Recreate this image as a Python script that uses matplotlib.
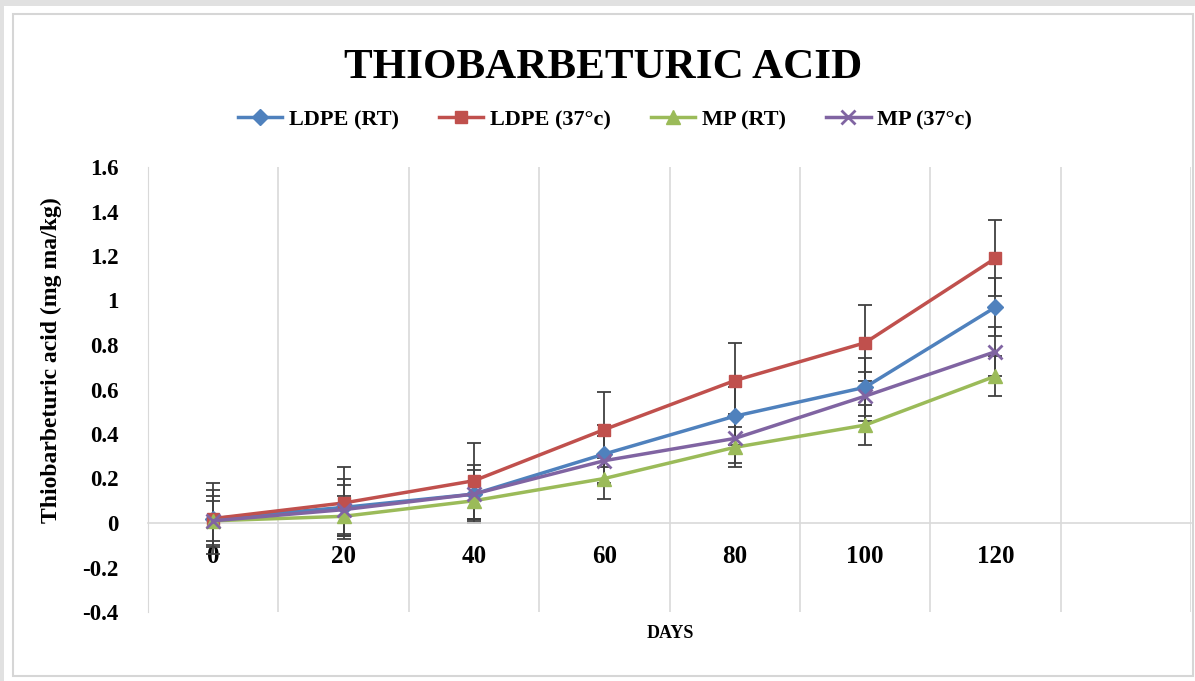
import matplotlib.pyplot as plt
from matplotlib.patches import Rectangle

days = ["0", "20", "40", "60", "80", "100", "120"]
series_names = ["LDPE (RT)", "LDPE (37°c)", "MP (RT)", "MP (37°c)"]

ldpe_rt = [0.02, 0.07, 0.13, 0.31, 0.48, 0.61, 0.97]
ldpe_37 = [0.02, 0.09, 0.19, 0.42, 0.64, 0.81, 1.19]
mp_rt = [0.01, 0.03, 0.10, 0.20, 0.34, 0.44, 0.66]
mp_37 = [0.01, 0.06, 0.13, 0.28, 0.38, 0.57, 0.77]

err_ldpe_rt = [0.13, 0.13, 0.13, 0.13, 0.13, 0.13, 0.13]
err_ldpe_37 = [0.16, 0.16, 0.17, 0.17, 0.17, 0.17, 0.17]
err_mp_rt = [0.09, 0.09, 0.09, 0.09, 0.09, 0.09, 0.09]
err_mp_37 = [0.11, 0.11, 0.11, 0.11, 0.11, 0.11, 0.11]

colors = ["#4F81BD", "#C0504D", "#9BBB59", "#8064A2"]
markers = ["D", "s", "^", "x"]
msizes = [8, 9, 10, 10]

serif = "Liberation Serif"

W, H = 1195, 681
fig = plt.figure(figsize=(W / 100, H / 100), dpi=100)
fig.patch.set_facecolor("white")

# outer grey frame of the screenshot and chart border
fig.add_artist(Rectangle((0, 1 - 6 / H), 1, 6 / H, transform=fig.transFigure,
                         facecolor="#e1e1e1", edgecolor="none"))
fig.add_artist(Rectangle((0, 0), 4 / W, 1, transform=fig.transFigure,
                         facecolor="#e1e1e1", edgecolor="none"))
fig.add_artist(Rectangle((13 / W, 1 - 676 / H), (1193 - 13) / W, (676 - 14) / H,
                         transform=fig.transFigure, facecolor="none",
                         edgecolor="#d6d6d6", linewidth=1.5))

ax = fig.add_axes([148 / W, 1 - 612 / H, (1191 - 148) / W, (612 - 167) / H])

x = list(range(len(days)))
all_vals = [ldpe_rt, ldpe_37, mp_rt, mp_37]
all_errs = [err_ldpe_rt, err_ldpe_37, err_mp_rt, err_mp_37]

for vals, errs, name, c, m, ms in zip(all_vals, all_errs, series_names, colors, markers, msizes):
    ax.errorbar(x, vals, yerr=errs, fmt="none", ecolor="#404040",
                elinewidth=1.3, capsize=5, capthick=1.3, zorder=2)
    ax.plot(x, vals, color=c, marker=m, markersize=ms, linewidth=2.5,
            markeredgewidth=2 if m == "x" else 1, label=name, zorder=3)

ax.set_xlim(-0.5, 7.5)
ax.set_ylim(-0.4, 1.6)
ax.set_yticks([-0.4, -0.2, 0, 0.2, 0.4, 0.6, 0.8, 1, 1.2, 1.4, 1.6])
ax.set_yticklabels(["-0.4", "-0.2", "0", "0.2", "0.4", "0.6", "0.8", "1", "1.2", "1.4", "1.6"])
ax.set_xticks(x)
ax.set_xticklabels(days)

for sp in ["top", "right"]:
    ax.spines[sp].set_visible(False)
ax.spines["left"].set_color("#d9d9d9")
ax.spines["bottom"].set_position(("data", 0))
ax.spines["bottom"].set_color("#d9d9d9")
ax.spines["bottom"].set_linewidth(1.2)

for b in [0.5, 1.5, 2.5, 3.5, 4.5, 5.5, 6.5, 7.5]:
    ax.axvline(b, color="#d9d9d9", linewidth=1.2, zorder=0)

ax.tick_params(axis="both", length=0)
ax.tick_params(axis="y", pad=21)
ax.tick_params(axis="x", pad=16)
for lbl in ax.get_yticklabels():
    lbl.set_fontfamily(serif)
    lbl.set_fontweight("bold")
    lbl.set_fontsize(16.5)
for lbl in ax.get_xticklabels():
    lbl.set_fontfamily(serif)
    lbl.set_fontweight("bold")
    lbl.set_fontsize(18)

ax.set_ylabel("Thiobarbeturic acid (mg ma/kg)", fontfamily=serif,
              fontweight="bold", fontsize=17, labelpad=8)
ax.yaxis.set_label_coords(-86 / (1191 - 148), 0.5 + (167 - 360 + 222) / 445)

fig.text(670 / W, 1 - 633 / H, "DAYS", ha="center", va="center",
         fontfamily=serif, fontweight="bold", fontsize=13)

fig.text(603 / W, 1 - 68 / H, "THIOBARBETURIC ACID", ha="center", va="center",
         fontfamily=serif, fontweight="bold", fontsize=31)

leg = fig.legend(loc="center", bbox_to_anchor=(605 / W, 1 - 120 / H), ncol=4,
                 frameon=False, handlelength=2.0, columnspacing=1.8,
                 handletextpad=0.3,
                 prop={"family": serif, "weight": "bold", "size": 16})

fig.savefig("out.png", dpi=100)
